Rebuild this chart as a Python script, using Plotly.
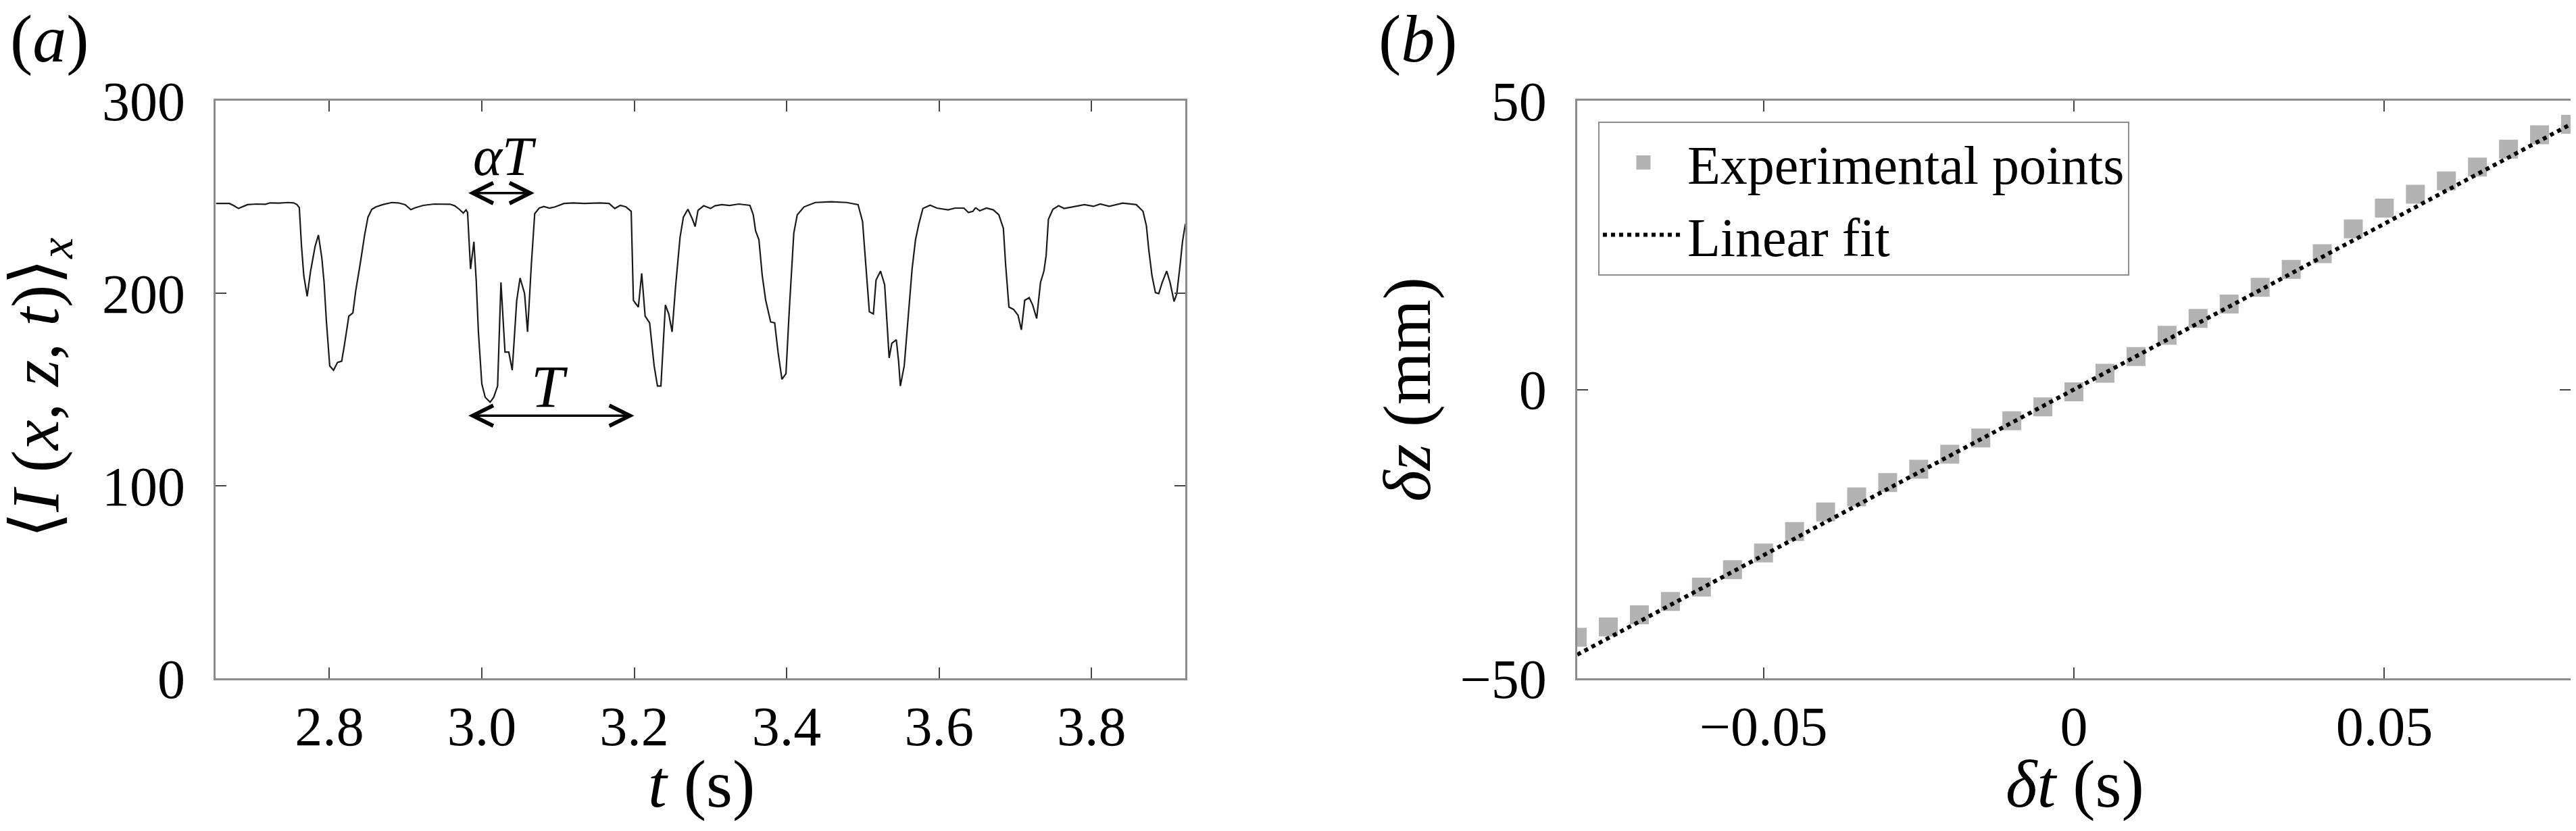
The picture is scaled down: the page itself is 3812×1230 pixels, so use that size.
import plotly.graph_objects as go

# ---------------- data: panel (a) ----------------
t_s = [2.6511, 2.6688, 2.6748, 2.6807, 2.6925, 2.7043, 2.7161, 2.7221, 2.7339, 2.7457,
       2.7531, 2.7575, 2.7605, 2.7634, 2.7664, 2.7708, 2.7753, 2.7812, 2.7856, 2.7900,
       2.7930, 2.7960, 2.8004, 2.8054, 2.8107, 2.8161, 2.8196, 2.8255, 2.8308, 2.8344,
       2.8403, 2.8462, 2.8506, 2.8557, 2.8610, 2.8699, 2.8817, 2.8905, 2.8994, 2.9068,
       2.9127, 2.9231, 2.9378, 2.9497, 2.9585, 2.9644, 2.9704, 2.9757, 2.9793,
       2.9813, 2.9852, 2.9896, 2.9926, 2.9955, 3.0000, 3.0044, 3.0109, 3.0156, 3.0207,
       3.0251, 3.0304, 3.0354, 3.0399, 3.0458, 3.0502, 3.0561, 3.0600, 3.0650, 3.0694,
       3.0753, 3.0813, 3.0887, 3.0960, 3.1079, 3.1197, 3.1345, 3.1552, 3.1670, 3.1744,
       3.1818, 3.1892, 3.1960, 3.1989, 3.2054, 3.2098, 3.2143, 3.2202, 3.2261, 3.2305,
       3.2350, 3.2409, 3.2453, 3.2497, 3.2542, 3.2601, 3.2645, 3.2704, 3.2764, 3.2799,
       3.2837, 3.2911, 3.3000, 3.3059, 3.3148,
       3.3252, 3.3370, 3.3518, 3.3562, 3.3592, 3.3636, 3.3680, 3.3725, 3.3790, 3.3843,
       3.3887, 3.3938, 3.3991, 3.4035, 3.4094, 3.4139, 3.4227, 3.4375, 3.4582, 3.4789,
       3.4937, 3.4996, 3.5040, 3.5085, 3.5138, 3.5173, 3.5232, 3.5286, 3.5321, 3.5345,
       3.5380, 3.5439, 3.5469, 3.5492, 3.5543, 3.5602, 3.5646, 3.5691, 3.5735, 3.5788,
       3.5883, 3.5971, 3.6119, 3.6208, 3.6326, 3.6385, 3.6444, 3.6474,
       3.6489, 3.6533, 3.6622, 3.6711, 3.6784, 3.6844, 3.6873, 3.6917, 3.6977, 3.7036,
       3.7080, 3.7124, 3.7183, 3.7228, 3.7281, 3.7331, 3.7376, 3.7405, 3.7435, 3.7494,
       3.7568, 3.7642, 3.7760, 3.7908, 3.8026, 3.8115, 3.8233, 3.8410, 3.8588, 3.8676,
       3.8721, 3.8750, 3.8794, 3.8839, 3.8883, 3.8928, 3.8987, 3.9031, 3.9084, 3.9120,
       3.9164, 3.9194, 3.9232]
intensity = [246.6, 246.6, 245.4, 244.0, 246.0, 246.3, 246.2, 246.9, 246.8, 247.1,
             246.9, 246.0, 244.4, 224.3, 209.1, 198.4, 211.5, 224.3, 230.2, 218.5,
             205.6, 185.7, 162.3, 160.0, 164.1, 164.7, 172.9, 188.1, 189.8, 200.9,
             215.0, 230.2, 239.5, 243.6, 244.8, 246.0, 247.1, 246.9, 246.0, 243.4,
             244.4, 245.6, 246.3, 246.3, 246.2, 245.4, 243.6, 241.6, 243.3,
             241.9, 212.6, 226.7, 206.8, 179.9, 152.9, 146.0, 143.4, 146.0, 151.8,
             205.6, 169.4, 169.4, 160.0, 196.3, 207.9, 199.8, 179.9, 215.0, 241.3,
             244.2, 245.0, 244.2, 244.8, 246.6, 246.9, 246.6, 246.9, 246.6, 244.0,
             245.6, 244.8, 242.5, 196.3, 192.8, 210.3, 188.1, 184.6, 162.3, 151.8,
             151.8, 193.9, 189.2, 179.9, 203.3, 229.0, 239.5, 243.6, 238.4, 234.6,
             243.0, 245.4, 244.0, 245.4, 246.0,
             245.6, 246.3, 245.6, 240.7, 232.5, 227.8, 209.1, 196.3, 185.1, 184.6,
             169.4, 155.3, 158.2, 191.6, 231.3, 240.7, 244.8, 247.1, 247.5, 247.1,
             246.0, 237.2, 215.0, 190.4, 189.2, 206.8, 211.5, 204.4, 182.2, 166.4,
             174.0, 175.8, 164.7, 151.8, 162.3, 191.6, 212.6, 227.8, 236.0, 244.0,
             245.7, 244.2, 243.3, 244.2, 244.2, 241.9, 242.5, 244.2,
             244.2, 242.8, 244.2, 243.3, 240.7, 233.7, 215.0, 192.8, 191.6, 188.6,
             181.0, 196.3, 197.7, 193.9, 186.9, 205.6, 211.5, 219.6, 238.4, 243.6,
             245.4, 244.0, 244.8, 246.0, 245.1, 246.3, 245.1, 246.8, 246.0, 242.5,
             234.9, 223.2, 209.1, 200.3, 199.8, 205.6, 211.5, 205.6, 195.7, 199.8,
             215.0, 226.7, 236.0]

x_range_a = [2.651, 3.923]
y_range_a = [0, 300]
x_ticks_a = [2.8, 3.0, 3.2, 3.4, 3.6, 3.8]
y_ticks_a = [0, 100, 200, 300]

# arrows (t start, t end, level) and their labels
alphaT_span = [2.981, 3.069]
alphaT_level = 252.0
alphaT_label_pos = [3.03, 271.0]
T_span = [2.981, 3.200]
T_level = 136.4
T_label_pos = [3.089, 151.5]

# ---------------- data: panel (b) ----------------
dt_s = [-0.080, -0.075, -0.070, -0.065, -0.060, -0.055, -0.050, -0.045, -0.040, -0.035,
        -0.030, -0.025, -0.020, -0.015, -0.010, -0.005, 0.000, 0.005, 0.010, 0.015,
        0.020, 0.025, 0.030, 0.035, 0.040, 0.045, 0.050, 0.055, 0.060, 0.065,
        0.070, 0.075, 0.080]
dz_mm = [-42.9, -41.1, -39.0, -36.7, -34.2, -31.2, -28.3, -24.6, -21.2, -18.6,
         -16.1, -13.8, -11.2, -8.4, -5.4, -3.0, -0.4, 2.8, 5.7, 9.4,
         12.3, 14.8, 17.7, 20.8, 23.5, 27.8, 31.4, 33.8, 36.1, 38.5,
         41.6, 44.1, 45.9]
fit_dt = [-0.08, 0.08]
fit_dz = [-45.9, 45.9]

x_range_b = [-0.08, 0.08]
y_range_b = [-50, 50]
x_ticks_b = [-0.05, 0, 0.05]
y_ticks_b = [-50, 0, 50]

# ---------------- styling ----------------
W, H = 3812, 1230
SERIF = "Liberation Serif, Times New Roman, serif"
TICK_FONT = dict(family=SERIF, size=82, color="black")
TITLE_FONT = dict(family=SERIF, size=100, color="black")
MARKER_GRAY = "#b3b3b3"

fig = go.Figure()

fig.add_trace(go.Scatter(
    x=t_s, y=intensity, mode="lines",
    line=dict(color="#1a1a1a", width=2.2),
    showlegend=False, xaxis="x", yaxis="y"))

fig.add_trace(go.Scatter(
    x=dt_s, y=dz_mm, mode="markers", name="Experimental points",
    marker=dict(symbol="square", size=23, color=MARKER_GRAY,
                line=dict(color=MARKER_GRAY, width=5)),
    xaxis="x2", yaxis="y2"))

fig.add_trace(go.Scatter(
    x=fit_dt, y=fit_dz, mode="lines", name="Linear fit",
    line=dict(color="black", width=6, dash="dot"),
    xaxis="x2", yaxis="y2"))

axis_common = dict(
    showgrid=False, zeroline=False, showline=True, mirror="ticks",
    linecolor="#8c8c8c", linewidth=3, automargin=False,
    ticks="inside", ticklen=16, tickwidth=2, tickcolor="#444444",
    tickfont=TICK_FONT,
)

y_dom = [0.1902, 0.8854]
fig.update_layout(
    width=W, height=H,
    margin=dict(l=0, r=0, t=0, b=0, pad=0, autoexpand=False),
    paper_bgcolor="white", plot_bgcolor="white",
    font=dict(family=SERIF, color="black"),
    xaxis=dict(domain=[0.0817, 0.4580], range=x_range_a, anchor="y",
               tickvals=x_ticks_a, tickformat=".1f", ticklabelstandoff=-2,
               **axis_common),
    yaxis=dict(domain=y_dom, range=y_range_a, anchor="x",
               tickvals=y_ticks_a, ticklabelstandoff=26, **axis_common),
    xaxis2=dict(domain=[0.6102, 0.9958], range=x_range_b, anchor="y2",
                tickvals=x_ticks_b, ticklabelstandoff=-2, **axis_common),
    yaxis2=dict(domain=y_dom, range=y_range_b, anchor="x2",
                tickvals=y_ticks_b, ticklabelstandoff=26, **axis_common),
    legend=dict(x=0.6183, y=0.8602, xanchor="left", yanchor="top",
                bgcolor="white", bordercolor="#8c8c8c", borderwidth=2,
                font=dict(family=SERIF, size=80, color="black"),
                itemwidth=120, tracegroupgap=0),
    showlegend=True,
)

arrow_style = dict(showarrow=True, text="", arrowhead=5, startarrowhead=5,
                   arrowside="end+start", arrowwidth=3.5, arrowsize=1.7,
                   startarrowsize=1.7, arrowcolor="black",
                   xref="x", yref="y", axref="x", ayref="y",
                   standoff=0, startstandoff=0)

label_style = dict(showarrow=False, xanchor="center", yanchor="middle")
BRACKET = '<span style="font-family:DejaVu Serif">{}</span>'

annotations = [
    dict(x=alphaT_span[1], y=alphaT_level, ax=alphaT_span[0], ay=alphaT_level, **arrow_style),
    dict(x=T_span[1], y=T_level, ax=T_span[0], ay=T_level, **arrow_style),
    dict(x=alphaT_label_pos[0], y=alphaT_label_pos[1], xref="x", yref="y",
         text="<i>αT</i>", font=dict(family=SERIF, size=82, color="black"), **label_style),
    dict(x=T_label_pos[0], y=T_label_pos[1], xref="x", yref="y",
         text="<i>T</i>", font=dict(family=SERIF, size=88, color="black"), **label_style),
    # panel letters
    dict(x=0.0173, y=0.960, xref="paper", yref="paper", text="(<i>a</i>)",
         font=TITLE_FONT, **label_style),
    dict(x=0.5483, y=0.960, xref="paper", yref="paper", text="(<i>b</i>)",
         font=TITLE_FONT, **label_style),
    # axis titles
    dict(x=0.2702, y=0.063, xref="paper", yref="paper", text="<i>t</i> (s)",
         font=TITLE_FONT, **label_style),
    dict(x=0.8033, y=0.063, xref="paper", yref="paper", text="<i>δt</i> (s)",
         font=TITLE_FONT, **label_style),
    dict(x=0.0131, y=0.540, xref="paper", yref="paper", textangle=-90,
         text=BRACKET.format("⟨") + "<i>I</i> (<i>x</i>, <i>z</i>, <i>t</i>)"
              + BRACKET.format("⟩") + "<sub><i>x</i></sub>",
         font=TITLE_FONT, **label_style),
    dict(x=0.5442, y=0.538, xref="paper", yref="paper", textangle=-90,
         text="<i>δz</i> (mm)", font=TITLE_FONT, **label_style),
]
fig.update_layout(annotations=annotations)

fig.write_html("out.html")
